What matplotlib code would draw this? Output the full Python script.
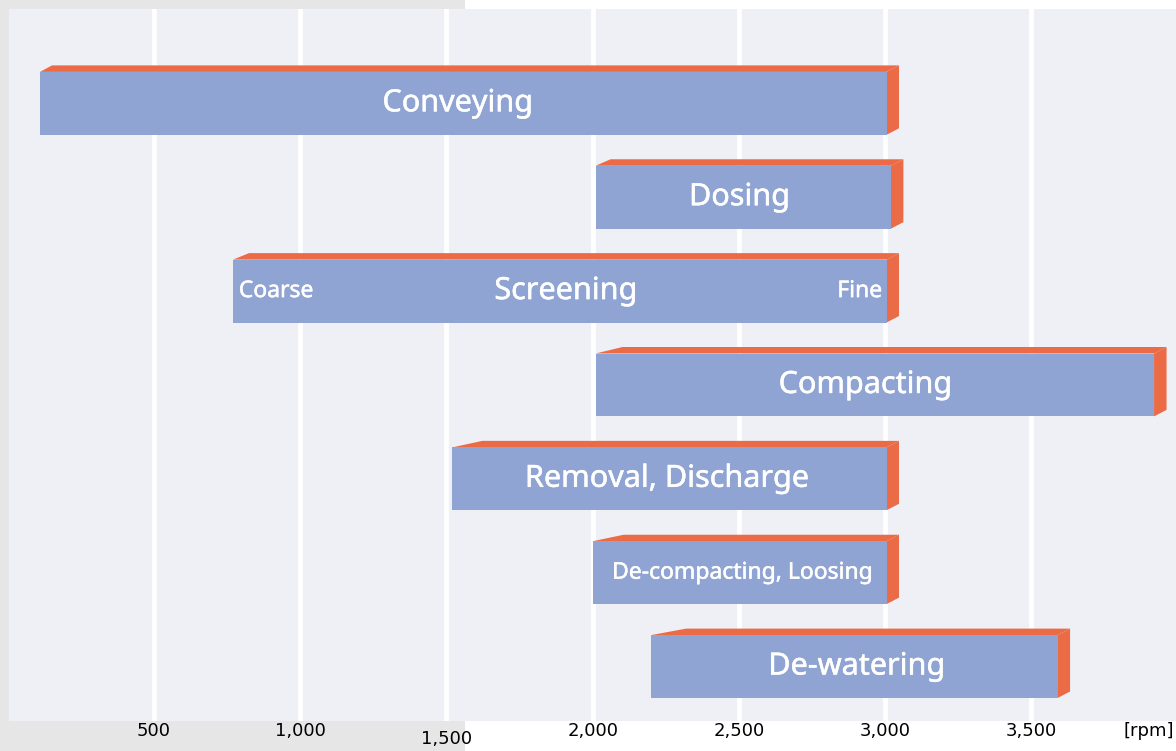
import matplotlib.pyplot as plt
import matplotlib.patheffects as pe
from matplotlib.patches import Polygon, Rectangle

# rpm ranges per process
processes = ['Conveying', 'Dosing', 'Screening', 'Compacting',
             'Removal, Discharge', 'De-compacting, Loosing', 'De-watering']
rpm_start = [110, 2010, 770, 2010, 1520, 2000, 2200]
rpm_end = [3005, 3020, 3005, 3920, 3005, 3005, 3590]
ticks = [500, 1000, 1500, 2000, 2500, 3000, 3500]
tick_labels = ['500', '1,000', '1,500', '2,000', '2,500', '3,000', '3,500']

BLUE = '#8fa4d3'
ORANGE = '#ea6b46'
BG = '#eef0f6'

W, H = 1176, 751
fig = plt.figure(figsize=(W / 100, H / 100), dpi=100)
fig.patch.set_facecolor('white')
# grey panel at the left side
fig.add_artist(Rectangle((0, 0), 465 / W, 1, transform=fig.transFigure,
                         facecolor='#e6e6e6', edgecolor='none', zorder=0))

ax_l, ax_b, ax_r, ax_t = 9 / W, 30 / H, 1.0, 1 - 9 / H
ax = fig.add_axes([ax_l, ax_b, ax_r - ax_l, ax_t - ax_b])
ax.set_facecolor(BG)
xmin, xmax = 4, 3995
ymin, ymax = -1.005, 6.58
ax.set_xlim(xmin, xmax)
ax.set_ylim(ymax, ymin)
for s in ax.spines.values():
    s.set_visible(False)
ax.set_yticks([])
ax.set_xticks([])
for t in ticks:
    ax.axvline(t, color='white', lw=3.5, zorder=1)

# pixel -> data scale
px_w = (ax_r - ax_l) * W
px_h = (ax_t - ax_b) * H
dxp = (xmax - xmin) / px_w
dyp = (ymax - ymin) / px_h

bar_h = 0.67
depth_x, depth_y = 12.5, 6.5
bevel = [12, 15, 16, 27, 30, 31, 35]

for i, (a, b) in enumerate(zip(rpm_start, rpm_end)):
    top = i - bar_h / 2
    bot = i + bar_h / 2
    ox, oy = depth_x * dxp, depth_y * dyp
    # top face
    ax.add_patch(Polygon([(a, top), (b, top), (b + ox, top - oy),
                          (a + bevel[i] * dxp, top - oy)],
                         closed=True, facecolor=ORANGE, edgecolor='none', zorder=2))
    # right face
    ax.add_patch(Polygon([(b, top), (b + ox, top - oy), (b + ox, bot - oy), (b, bot)],
                         closed=True, facecolor=ORANGE, edgecolor='none', zorder=2))
    ax.add_patch(Rectangle((a, top), b - a, bar_h, facecolor=BLUE,
                           edgecolor='none', zorder=3))

font = 'Noto Sans'
heavier = [pe.withStroke(linewidth=0.35, foreground='white')]
big = dict(color='white', fontsize=22, family=font, va='center', ha='center',
           zorder=4, path_effects=heavier)
small = dict(color='white', fontsize=16.5, family=font, va='center',
             zorder=4, path_effects=heavier)

ax.text(1538, 0, processes[0], **big)
ax.text(2502, 1, processes[1], **big)
ax.text(1908, 2, processes[2], **big)
ax.text(2932, 3, processes[3], **big)
ax.text(2254, 4, processes[4], **big)
ax.text(2512, 5, processes[5], ha='center', **small)
ax.text(2903, 6, processes[6], **big)
ax.text(790, 2, 'Coarse', ha='left', **small)
ax.text(2990, 2, 'Fine', ha='right', **small)

tfont = dict(fontsize=13, family='DejaVu Sans', color='black', ha='center', va='top')
for t, lab in zip(ticks, tick_labels):
    dy = 8 if t == 1500 else 0
    ax.annotate(lab, xy=(t, 0), xycoords=('data', 'axes fraction'),
                xytext=(0, -1 - dy), textcoords='offset pixels', **tfont)
ax.annotate('[rpm]', xy=(1, 0), xycoords='axes fraction', xytext=(-2, -1),
            textcoords='offset pixels', fontsize=13, family='DejaVu Sans',
            ha='right', va='top')

fig.savefig('out.png', dpi=100, facecolor=fig.get_facecolor())
